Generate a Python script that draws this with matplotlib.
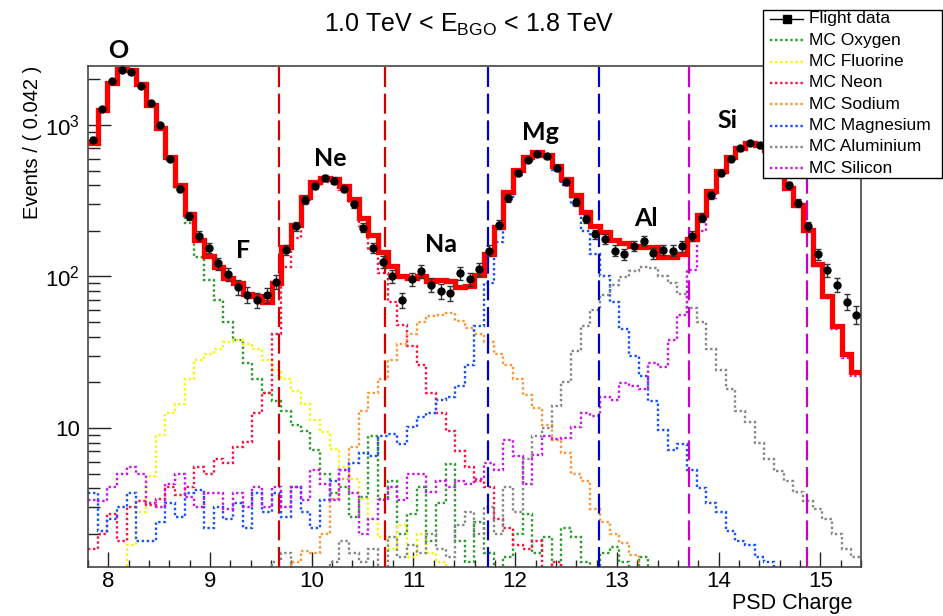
import numpy as np
import matplotlib
matplotlib.use("Agg")
import matplotlib.pyplot as plt
from matplotlib.lines import Line2D
from matplotlib.patches import Rectangle
from matplotlib.ticker import FixedLocator, MultipleLocator, FuncFormatter, NullFormatter

plt.rcParams["font.family"] = ["Liberation Sans", "DejaVu Sans"]
plt.rcParams["mathtext.fontset"] = "custom"
plt.rcParams["mathtext.rm"] = "Liberation Sans"
plt.rcParams["mathtext.it"] = "Liberation Sans:italic"
plt.rcParams["mathtext.bf"] = "Liberation Sans:bold"

# ---- histogram binning (PSD charge) ----
x_lo, x_hi, n_bins = 7.8, 15.4, 80

# ---- MC templates, counts per bin ----
oxygen = [750, 1240, 1890, 2340, 2290, 1840, 1340, 940, 590, 375,
          225, 135, 95, 70, 50, 38, 27, 21, 17, 15,
          13, 10.5, 9.5, 7.2, 5.0, 3.7, 4.1, 2.6, 3.5, 8.8,
          3.4, 4.5, 2.0, 2.7, 4.1, 1.8, 3.2, 5.8, 1.8, 1.3,
          2.4, 1.5, 0, 1.4, 2.0, 2.7, 1.5, 1.9, 0, 2.2,
          1.9, 1.3, 0, 1.5, 1.65, 1.3, 0, 1.4, 0, 0,
          0, 0, 0, 0, 0, 0, 0, 0, 0, 0,
          0, 0, 0, 0, 0, 0, 0, 0, 0, 0]

fluorine = [0, 0, 0, 1.1, 1.7, 2.8, 4.8, 9.0, 12.5, 14.5,
            21, 28, 31, 33, 37, 38, 36, 33, 28, 24,
            21, 17.5, 14.5, 11.3, 9.4, 7.3, 5.5, 4.6, 3.4, 2.5,
            1.9, 1.6, 2.3, 1.4, 2.0, 1.5, 1.3, 0, 0, 0,
            0, 0, 0, 0, 0, 0, 0, 0, 0, 0,
            0, 0, 0, 0, 0, 0, 0, 0, 0, 0,
            0, 0, 0, 0, 0, 0, 0, 0, 0, 0,
            0, 0, 0, 0, 0, 0, 0, 0, 0, 0]

neon = [1.6, 2.0, 2.7, 1.8, 3.0, 3.3, 3.1, 3.4, 4.1, 3.6,
        4.1, 5.5, 5.0, 6.2, 5.9, 7.5, 8.1, 12.5, 17, 42,
        115, 180, 305, 390, 420, 415, 370, 300, 215, 150,
        105, 68, 48, 35, 26, 17, 12.5, 9.5, 7.0, 5.5,
        4.5, 4.1, 2.5, 2.2, 1.7, 1.6, 1.8, 0, 1.3, 0,
        0, 0, 0, 0, 0, 0, 0, 0, 0, 0,
        0, 0, 0, 0, 0, 0, 0, 0, 0, 0,
        0, 0, 0, 0, 0, 0, 0, 0, 0, 0]

sodium = [0, 0, 0, 0, 0, 0, 0, 0, 0, 0,
          0, 0, 0, 0, 0, 0, 0, 0, 0, 0,
          0, 1.3, 1.55, 1.5, 2.0, 3.4, 4.6, 7.5, 13, 17,
          21, 28, 36, 42, 50, 55, 56, 57, 51, 46,
          42, 37, 31, 26, 21, 16.5, 13.5, 10.5, 8.3, 6.8,
          5.0, 4.5, 2.9, 2.4, 2.0, 1.74, 1.45, 1.1, 0, 0,
          0, 0, 0, 0, 0, 0, 0, 0, 0, 0,
          0, 0, 0, 0, 0, 0, 0, 0, 0, 0]

magnesium = [3.7, 2.1, 2.5, 3.0, 3.7, 1.8, 1.8, 2.4, 3.2, 2.6,
             3.7, 3.9, 2.2, 3.0, 2.5, 3.2, 2.2, 3.7, 2.8, 3.7,
             2.6, 4.1, 2.8, 2.2, 3.35, 4.5, 5.3, 5.85, 6.8, 6.5,
             8.8, 9.2, 7.9, 10.2, 11.9, 12.5, 15.3, 16, 19, 26,
             47, 90, 170, 320, 470, 580, 630, 605, 505, 400,
             295, 200, 140, 100, 68, 45, 30, 22, 15, 9.7,
             7.2, 7.9, 5.3, 4.0, 3.2, 2.8, 2.1, 1.8, 1.7, 1.4,
             1.3, 0, 0, 0, 0, 0, 0, 0, 0, 0]

aluminium = [0, 0, 0, 0, 0, 0, 0, 0, 0, 0,
             0, 0, 0, 0, 0, 0, 0, 0, 0, 1.3,
             1.5, 1.2, 0, 0, 0, 1.3, 1.8, 1.5, 1.3, 1.6,
             1.2, 1.9, 1.4, 1.7, 1.5, 2.0, 1.6, 1.4, 2.3, 2.8,
             2.0, 3.0, 2.0, 4.1, 2.8, 6.2, 8.8, 10, 14, 20,
             32, 47, 60, 76, 88, 99, 108, 115, 114, 100,
             90, 77, 62, 50, 33, 24, 18, 13, 11, 8,
             6.2, 5.2, 4.5, 3.8, 3.3, 2.9, 2.5, 2.0, 1.6, 1.4]

silicon = [3.35, 3.3, 4.1, 5.0, 5.5, 5.0, 3.2, 3.0, 4.3, 5.0,
           3.5, 3.0, 3.7, 3.7, 2.9, 3.7, 3.0, 4.1, 3.0, 4.1,
           3.0, 4.1, 3.35, 5.3, 4.3, 3.35, 5.3, 3.7, 2.0, 2.5,
           3.35, 4.1, 3.35, 5.0, 5.0, 3.8, 4.5, 4.1, 4.5, 4.3,
           4.6, 5.85, 5.3, 8.3, 6.5, 4.3, 6.6, 8.8, 8.5, 8.6,
           10.2, 12.5, 12, 16, 15.3, 19.7, 18.8, 18, 26.7, 25.4,
           38, 56, 110, 200, 330, 470, 590, 690, 745, 730,
           675, 535, 378, 292, 198, 118, 72, 45, 29, 22]

# ---- flight data, counts per bin ----
flight = [800, 1280, 1950, 2300, 2250, 1800, 1400, 1000, 600, 380,
          250, 185, 155, 122, 104, 85, 76, 70, 75, 92,
          150, 215, 320, 395, 445, 430, 380, 300, 210, 155,
          125, 100, 70, 96, 108, 88, 80, 78, 105, 96,
          112, 148, 220, 330, 480, 590, 645, 620, 520, 420,
          310, 240, 190, 178, 148, 140, 160, 172, 142, 150,
          148, 158, 185, 245, 345, 480, 600, 700, 760, 735,
          680, 545, 400, 305, 215, 140, 110, 88, 68, 56]

# ---- charge selection windows ----
cut_neon = [9.68, 10.72]
cut_magnesium = [11.73, 12.82]
cut_silicon = [13.71, 14.87]

element_labels = ["O", "F", "Ne", "Na", "Mg", "Al", "Si"]

templates = [
    ("MC Oxygen", oxygen, "#2a9a2a"),
    ("MC Fluorine", fluorine, "#f5f50a"),
    ("MC Neon", neon, "#ff1040"),
    ("MC Sodium", sodium, "#ff9433"),
    ("MC Magnesium", magnesium, "#1550ff"),
    ("MC Aluminium", aluminium, "#858585"),
    ("MC Silicon", silicon, "#cc11ee"),
]

W, H = 943, 616
fig = plt.figure(figsize=(W / 100, H / 100), dpi=100)
ax = fig.add_axes([88 / W, 1 - 567 / H, (861 - 88) / W, (567 - 66) / H])

edges = np.linspace(x_lo, x_hi, n_bins + 1)
centers = 0.5 * (edges[:-1] + edges[1:])
floor = 1e-2

dot = (0, (1.0, 1.15))
for name, vals, col in templates:
    v = np.asarray(vals, dtype=float)
    ax.stairs(np.where(v > 0, v, floor), edges, baseline=None,
              color=col, lw=1.7, ls=dot, zorder=2)

total = np.sum([np.asarray(v, dtype=float) for _, v, _ in templates], axis=0)
ax.stairs(total, edges, baseline=None, color="#ff0000", lw=3.8, zorder=4)

for xs, col in [(cut_neon, "#d40000"), (cut_magnesium, "#0000cc"),
                (cut_silicon, "#cc00cc")]:
    for xv in xs:
        ax.axvline(xv, color=col, lw=1.6, ls=(0, (9, 3)), zorder=3)

data = np.asarray(flight, dtype=float)
ax.errorbar(centers, data, yerr=np.sqrt(data), fmt="o", color="black",
            ecolor="#333333", ms=5, elinewidth=1.0, capsize=2.2, capthick=1.0,
            zorder=5)

ax.set_yscale("log")
ax.set_xlim(x_lo, x_hi)
ax.set_ylim(1.21, 2450)

ax.xaxis.set_major_locator(MultipleLocator(1))
ax.xaxis.set_minor_locator(MultipleLocator(0.2))
ax.yaxis.set_major_locator(FixedLocator([10, 100, 1000]))
ax.yaxis.set_minor_locator(FixedLocator(
    [m * 10 ** e for e in range(0, 4) for m in range(2, 10)]))
ax.yaxis.set_minor_formatter(NullFormatter())


def ylab(v, pos):
    e = int(round(np.log10(v)))
    return "10" if e == 1 else r"$10^{%d}$" % e


ax.yaxis.set_major_formatter(FuncFormatter(ylab))
ax.tick_params(axis="both", which="both", direction="in", color="#222222",
               width=1.0, labelsize=16, top=False, right=False)
ax.tick_params(axis="x", which="major", length=11, pad=3)
ax.tick_params(axis="x", which="minor", length=5)
ax.tick_params(axis="y", which="major", length=16.5, pad=6)
ax.tick_params(axis="y", which="minor", length=8.5)
for sp in ax.spines.values():
    sp.set_color("#444444")
    sp.set_linewidth(1.2)

xl = ax.set_xlabel("PSD Charge", fontsize=15.5, ha="right", va="center")
ax.xaxis.set_label_coords((852 - 88) / (861 - 88), -(603 - 567) / (567 - 66))
yl = ax.set_ylabel("Events / ( 0.042 )", fontsize=14.5)
yl.set_horizontalalignment("right")
yl.set_verticalalignment("center")
ax.yaxis.set_label_coords(-(88 - 32) / (861 - 88), 1.0)

fig.text(0.498, 1 - 32 / H, r"1.0 TeV < E$_{\mathrm{BGO}}$ < 1.8 TeV",
         ha="center", va="baseline", fontsize=18)

# element names above their peaks (pixel positions of label centres)
label_pos = [(118, 50), (243, 250), (330, 158), (441, 245),
             (540, 133), (646, 218), (728, 120)]
for lab, (px, py) in zip(element_labels, label_pos):
    fig.text(px / W, 1 - py / H, lab, ha="center", va="center",
             fontsize=18, fontweight="bold", family=["Lato", "DejaVu Sans"])

# legend box
fig.add_artist(Rectangle((763 / W, 1 - 178 / H), (942 - 763) / W, (178 - 10) / H,
                         transform=fig.transFigure, facecolor="white",
                         edgecolor="black", lw=1.0, zorder=10))
entries = [("Flight data", None)] + [(n, c) for n, _, c in templates]
for i, (name, col) in enumerate(entries):
    yc = 1 - (19 + 21.3 * i) / H
    if col is None:
        fig.add_artist(Line2D([770 / W, 803 / W], [yc, yc], color="black",
                              lw=1.0, transform=fig.transFigure, zorder=11))
        fig.add_artist(Line2D([786.5 / W], [yc], marker="s", ms=6,
                              color="black", transform=fig.transFigure,
                              zorder=12))
    else:
        fig.add_artist(Line2D([770 / W, 803 / W], [yc, yc], color=col,
                              lw=1.7, ls=dot, transform=fig.transFigure,
                              zorder=11))
    fig.text(809 / W, yc, name, ha="left", va="center", fontsize=12.5,
             zorder=12)

fig.savefig("out.png", dpi=100)
